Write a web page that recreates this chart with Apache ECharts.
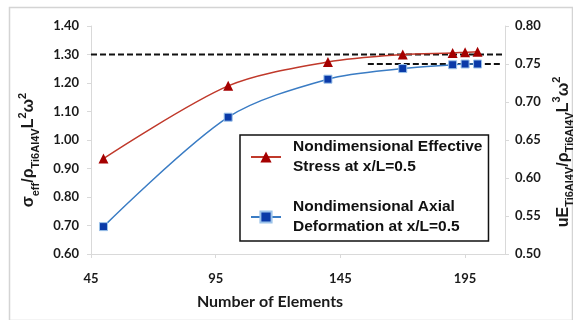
<!DOCTYPE html>
<html>
<head>
<meta charset="utf-8">
<script src="https://cdn.jsdelivr.net/npm/echarts@6/dist/echarts.min.js"></script>
<style>
html,body{margin:0;padding:0;background:#fff;}
#chart{width:573px;height:320px;}
</style>
</head>
<body>
<div id="chart"></div>
<script>
// ---- data ----
const elements = [50, 100, 140, 170, 190, 195, 200];
const stressValues = [0.935, 1.19, 1.274, 1.30, 1.305, 1.308, 1.31];
const deformValues = [0.536, 0.68, 0.73, 0.744, 0.749, 0.75, 0.75];
const stressRefX = [45, 210];
const stressRefY = [1.30, 1.30];
const deformRefX = [156, 210];
const deformRefY = [0.75, 0.75];
const xTicks = [45, 95, 145, 195];
const stressName = 'Nondimensional Effective\nStress at x/L=0.5';
const deformName = 'Nondimensional Axial\nDeformation at x/L=0.5';

const zip = (xs, ys) => xs.map((x, i) => [x, ys[i]]);

const tickFont = {fontFamily: 'Lato', fontWeight: 'bold', fontSize: 13, color: '#1a1a1a'};
const nameRich = {
  m: {fontFamily: 'Liberation Sans', fontWeight: 'bold', fontSize: 16, color: '#1a1a1a', lineHeight: 24, verticalAlign: 'middle'},
  sub: {fontFamily: 'Liberation Sans', fontWeight: 'bold', fontSize: 11, color: '#1a1a1a', lineHeight: 24, verticalAlign: 'bottom'},
  sup: {fontFamily: 'Liberation Sans', fontWeight: 'bold', fontSize: 11, color: '#1a1a1a', lineHeight: 24, verticalAlign: 'top'}
};

const chart = echarts.init(document.getElementById('chart'), null, {renderer: 'canvas'});
chart.setOption({
  backgroundColor: '#ffffff',
  animation: false,
  graphic: [{
    type: 'rect', left: 7, top: 5, silent: true,
    shape: {width: 563, height: 313},
    style: {fill: 'none', stroke: '#d4d4d4', lineWidth: 1.5}
  }],
  grid: {left: 91, right: 68, top: 26, bottom: 66, containLabel: false, outerBoundsMode: 'none'},
  legend: {
    orient: 'vertical', left: 240, top: 135,
    data: [stressName, deformName],
    itemWidth: 30, itemHeight: 14, itemGap: 20,
    padding: [2, 6, 4, 10],
    borderColor: '#111', borderWidth: 1.5,
    textStyle: {fontFamily: 'Liberation Sans', fontWeight: 'bold', fontSize: 15.5, color: '#111', lineHeight: 20, padding: [0, 0, 0, 7]}
  },
  xAxis: {
    type: 'value', min: 45, max: 211, interval: 50,
    name: 'Number of Elements', nameLocation: 'middle', nameGap: 40,
    nameTextStyle: {fontFamily: 'Lato', fontWeight: 'bold', fontSize: 16, color: '#1a1a1a', padding: [0, 56, 0, 0]},
    axisLine: {lineStyle: {color: '#d9d9d9', width: 1}},
    axisTick: {show: true, length: 4, lineStyle: {color: '#d9d9d9'}},
    axisLabel: Object.assign({margin: 18, showMaxLabel: false,
      formatter: v => xTicks.includes(v) ? String(v) : ''}, tickFont),
    splitLine: {show: false}
  },
  yAxis: [{
    type: 'value', min: 0.6, max: 1.4, interval: 0.1, position: 'left',
    name: '{m|σ}{sub|eff}{m|/ρ}{sub|Ti6Al4V}{m|L}{sup|2}{m|ω}{sup|2}',
    nameLocation: 'middle', nameGap: 50, nameRotate: 90,
    nameTextStyle: {rich: nameRich, padding: [0, 20, 0, 0]},
    axisLine: {show: true, lineStyle: {color: '#d9d9d9'}},
    axisTick: {show: true, length: 4, lineStyle: {color: '#d9d9d9'}},
    axisLabel: Object.assign({margin: 12, formatter: v => v.toFixed(2)}, tickFont),
    splitLine: {show: false}
  }, {
    type: 'value', min: 0.5, max: 0.8, interval: 0.05, position: 'right',
    name: '{m|uE}{sub|Ti6Al4V}{m|/ρ}{sub|Ti6Al4V}{m|L}{sup|3}{m|ω}{sup|2}',
    nameLocation: 'middle', nameGap: 40, nameRotate: 90,
    nameTextStyle: {rich: nameRich, padding: [0, 24, 0, 0]},
    axisLine: {show: true, lineStyle: {color: '#d9d9d9'}},
    axisTick: {show: true, length: 4, lineStyle: {color: '#d9d9d9'}},
    axisLabel: Object.assign({margin: 10, formatter: v => v.toFixed(2)}, tickFont),
    splitLine: {show: false}
  }],
  series: [{
    name: 'stressRef', type: 'line', yAxisIndex: 0, data: zip(stressRefX, stressRefY),
    symbol: 'none', silent: true, z: 1,
    lineStyle: {color: '#111', width: 2, type: [6, 3]}
  }, {
    name: 'deformRef', type: 'line', yAxisIndex: 1, data: zip(deformRefX, deformRefY),
    symbol: 'none', silent: true, z: 1,
    lineStyle: {color: '#111', width: 2, type: [6, 3]}
  }, {
    name: stressName, type: 'line', yAxisIndex: 0, data: zip(elements, stressValues),
    smooth: 0.3, symbol: 'triangle', symbolSize: 10, z: 3,
    lineStyle: {color: '#c0392b', width: 1.5},
    itemStyle: {color: '#a50000', borderColor: '#a50000', borderWidth: 0}
  }, {
    name: deformName, type: 'line', yAxisIndex: 1, data: zip(elements, deformValues),
    smooth: 0.3, symbol: 'rect', symbolSize: 8, z: 3,
    lineStyle: {color: '#3a7cc4', width: 1.5},
    itemStyle: {color: '#0a3aa8', borderColor: '#9cc3ea', borderWidth: 1}
  }]
});
</script>
</body>
</html>
